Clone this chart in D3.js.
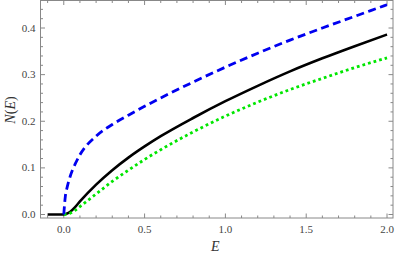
<!DOCTYPE html>
<html>
<head>
<meta charset="utf-8">
<script src="https://cdn.jsdelivr.net/npm/d3@7"></script>
<style>
  body { margin: 0; background: #fff; }
  svg text { font-family: "Liberation Serif", "DejaVu Serif", "Noto Serif", serif; }
</style>
</head>
<body>
<div class="chart"></div>
<script>
// values
const energy = [-0.1, 0, 0.01, 0.02, 0.04, 0.07, 0.1, 0.2, 0.3, 0.4, 0.5, 0.6, 0.8, 1.0, 1.2, 1.4, 1.6, 1.8, 2.0];
const blueDos  = [null, 0, 0.04, 0.057, 0.082, 0.108, 0.128, 0.168, 0.193, 0.213, 0.232, 0.25, 0.284, 0.316, 0.346, 0.374, 0.4, 0.425, 0.45];
const blackDos = [0, 0, 0.001, 0.002, 0.006, 0.016, 0.028, 0.064, 0.095, 0.122, 0.146, 0.168, 0.207, 0.243, 0.276, 0.307, 0.335, 0.361, 0.386];
const greenDos = [null, 0, 0.0005, 0.001, 0.003, 0.009, 0.017, 0.044, 0.071, 0.095, 0.118, 0.139, 0.177, 0.211, 0.241, 0.268, 0.292, 0.315, 0.336];
const xTicks = [0, 0.5, 1.0, 1.5, 2.0];
const yTicks = [0, 0.1, 0.2, 0.3, 0.4];

const width = 395, height = 257;
const margin = {top: 0.5, right: 2, bottom: 39, left: 40.5};
const w = width - margin.left - margin.right,
      h = height - margin.top - margin.bottom;

const svg = d3.select(".chart").append("svg")
    .attr("width", width)
    .attr("height", height);

const g = svg.append("g")
    .attr("transform", "translate(" + margin.left + "," + margin.top + ")");

const xScale = d3.scaleLinear().domain([-0.144, 2.037]).range([0, w]);
const yScale = d3.scaleLinear().domain([-0.0075, 0.459]).range([h, 0]);

// frame
g.append("rect")
    .attr("width", w).attr("height", h)
    .attr("fill", "none").attr("stroke", "#888").attr("stroke-width", 1);

// ticks (inward, on all four sides)
const xMinor = d3.range(-1, 21).map(d => d / 10);
const yMinor = d3.range(0, 23).map(d => d / 50);
const isMajor = (v, arr) => arr.some(t => Math.abs(t - v) < 1e-9);

xMinor.forEach(v => {
    const len = isMajor(v, xTicks) ? 4.5 : 2.5;
    const x = xScale(v);
    g.append("line").attr("x1", x).attr("x2", x).attr("y1", h).attr("y2", h - len)
        .attr("stroke", "#888");
    g.append("line").attr("x1", x).attr("x2", x).attr("y1", 0).attr("y2", len)
        .attr("stroke", "#888");
});
yMinor.forEach(v => {
    const len = isMajor(v, yTicks) ? 4.5 : 2.5;
    const y = yScale(v);
    g.append("line").attr("x1", 0).attr("x2", len).attr("y1", y).attr("y2", y)
        .attr("stroke", "#888");
    g.append("line").attr("x1", w).attr("x2", w - len).attr("y1", y).attr("y2", y)
        .attr("stroke", "#888");
});

// tick labels
g.selectAll(".xlab").data(xTicks).enter().append("text")
    .attr("x", d => xScale(d)).attr("y", h + 15)
    .attr("text-anchor", "middle").attr("font-size", 11).attr("fill", "#444")
    .text(d => d.toFixed(1));
g.selectAll(".ylab").data(yTicks).enter().append("text")
    .attr("x", -5).attr("y", d => yScale(d) + 3.5)
    .attr("text-anchor", "end").attr("font-size", 11).attr("fill", "#444")
    .text(d => d.toFixed(1));

// axis titles
g.append("text")
    .attr("x", xScale(1.0) - 10).attr("y", h + 33)
    .attr("text-anchor", "middle").attr("font-size", 14).attr("font-style", "italic")
    .attr("fill", "#333")
    .text("E");
const yl = svg.append("text")
    .attr("transform", "translate(15,110) rotate(-90)")
    .attr("text-anchor", "middle").attr("font-size", 14).attr("fill", "#333");
yl.append("tspan").attr("font-style", "italic").text("N");
yl.append("tspan").text("(");
yl.append("tspan").attr("font-style", "italic").text("E");
yl.append("tspan").text(")");

// curves
const line = d3.line()
    .defined(d => d[1] !== null)
    .x(d => xScale(d[0]))
    .y(d => yScale(d[1]))
    .curve(d3.curveMonotoneX);

g.append("clipPath").attr("id", "clip")
    .append("rect").attr("width", w).attr("height", h);

const curves = g.append("g").attr("clip-path", "url(#clip)");

curves.append("path")
    .datum(energy.map((e, i) => [e, blackDos[i]]))
    .attr("d", line).attr("fill", "none")
    .attr("stroke", "#000").attr("stroke-width", 2.6);

curves.append("path")
    .datum(energy.map((e, i) => [e, greenDos[i]]))
    .attr("d", line).attr("fill", "none")
    .attr("stroke", "#00e600").attr("stroke-width", 2.8)
    .attr("stroke-dasharray", "2.8,3");

curves.append("path")
    .datum(energy.map((e, i) => [e, blueDos[i]]))
    .attr("d", line).attr("fill", "none")
    .attr("stroke", "#0000f0").attr("stroke-width", 2.8)
    .attr("stroke-dasharray", "8,4.5");
</script>
</body>
</html>
